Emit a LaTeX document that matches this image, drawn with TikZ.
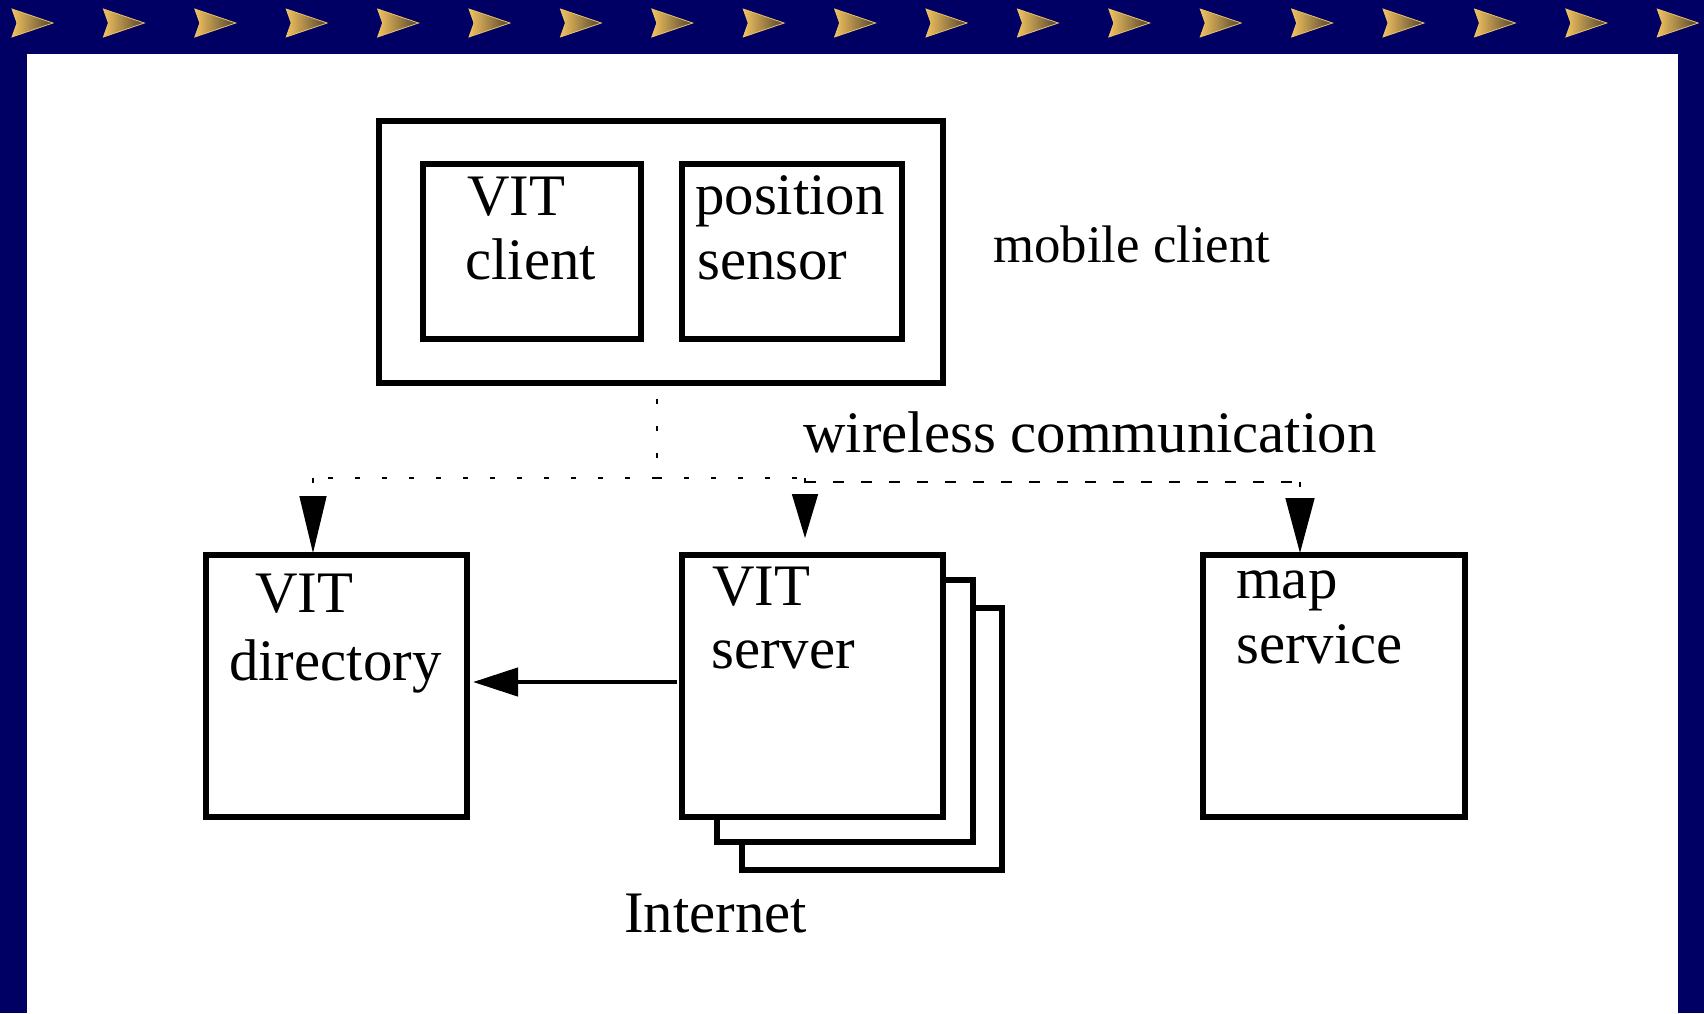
\documentclass[tikz,border=0pt]{standalone}
\usepackage{fontspec}
\setmainfont{Liberation Serif}
\usetikzlibrary{arrows.meta,calc}
\definecolor{navy}{RGB}{0,0,100}
\definecolor{goldA}{RGB}{242,194,96}
\definecolor{goldB}{RGB}{80,66,44}
\definecolor{goldC}{RGB}{236,192,104}
\tikzset{
  box/.style={draw=black, fill=white, line width=5.3pt, inner sep=0pt, outer sep=0pt, anchor=north west},
  lbl/.style={inner sep=0pt, anchor=base west, font=\fontsize{58.8}{60}\selectfont},
  lblsmall/.style={inner sep=0pt, anchor=base west, font=\fontsize{52.8}{55}\selectfont},
  wiredot/.style={line width=1.6pt, dash pattern=on 5pt off 22pt},
  wiredash/.style={line width=1.6pt, dash pattern=on 11pt off 17pt},
  dart/.style={left color=goldA, right color=goldB, draw=goldC, line width=0.8pt},
}
\begin{document}
\begin{tikzpicture}[x=1pt,y=-1pt]
\useasboundingbox (0,0) rectangle (1704,1013);
% frame
\fill[navy] (0,0) rectangle (1704,1013);
\fill[white] (27,54) rectangle (1678,1013);
\foreach \k in {0,...,18}{
  \shade[dart] ({12+91.4*\k},9) -- ++(41,14) -- ++(-41,14) -- ++(5,-14) -- cycle;
}
% mobile client
\node[box, minimum width=564pt, minimum height=262pt] (mobile) at (379,121) {};
\node[box, minimum width=218pt, minimum height=175pt] (vitclient) at (423,164) {};
\node[box, minimum width=220pt, minimum height=175pt] (possensor) at (682,164) {};
\node[lbl] (tvitc) at (467,215) {VIT};
\node[lbl] (tclient) at (465,279) {client};
\node[lbl] (tpos) at (695,214) {position};
\node[lbl] (tsens) at (697,279) {sensor};
\node[lblsmall] (tmobile) at (993,262) {mobile client};
\node[lbl] (twire) at (803,452) {wireless communication};
% lower boxes
\node[box, minimum width=261pt, minimum height=262pt] (vitdir) at (206,555) {};
\node[box, minimum width=260pt, minimum height=262pt] (srv3) at (742,608) {};
\node[box, minimum width=256pt, minimum height=262pt] (srv2) at (717,580) {};
\node[box, minimum width=261pt, minimum height=262pt] (vitsrv) at (682,555) {};
\node[box, minimum width=262pt, minimum height=262pt] (mapsrv) at (1203,555) {};
\node[lbl] (tvitd) at (255,612) {VIT};
\node[lbl] (tdir) at (229,680) {directory};
\node[lbl] (tvits) at (712,605) {VIT};
\node[lbl] (tserver) at (711,668) {server};
\node[lbl] (tmap) at (1236,598) {map};
\node[lbl] (tservice) at (1236,663) {service};
\node[lbl] (tinternet) at (624,932) {Internet};
% wireless connectors
\coordinate (mstart) at ($(mobile.south)+(-4,16)$);
\coordinate (j) at (657,478);
\coordinate (jl) at (313,478);
\coordinate (jm) at (805,478);
\coordinate (jm2) at (805,482);
\coordinate (jr) at (1300,482);
\coordinate (al) at (313,553);
\coordinate (am) at (805,538);
\coordinate (ar) at (1300,553);
\draw[wiredot] (mstart) -- (j);
\draw[wiredot] (j) -- (jl);
\draw[wiredot] (j) -- (jm);
\draw[wiredash] (jm2) -- (jr);
\draw[wiredot, -{Triangle[length=57pt,width=27pt]}] (jl) -- (al);
\draw[wiredot, -{Triangle[length=44pt,width=26pt]}] (jm) -- (am);
\draw[wiredot, -{Triangle[length=55pt,width=29pt]}] (jr) -- (ar);
% internet connector
\coordinate (hs) at (677,682);
\coordinate (hm) at (521,682);
\coordinate (he) at (473,682);
\draw[line width=4.5pt] (hs) -- (hm);
\draw[line width=4.5pt, -{Triangle[length=45pt,width=28pt]}] (hm) -- (he);
\end{tikzpicture}
\end{document}
